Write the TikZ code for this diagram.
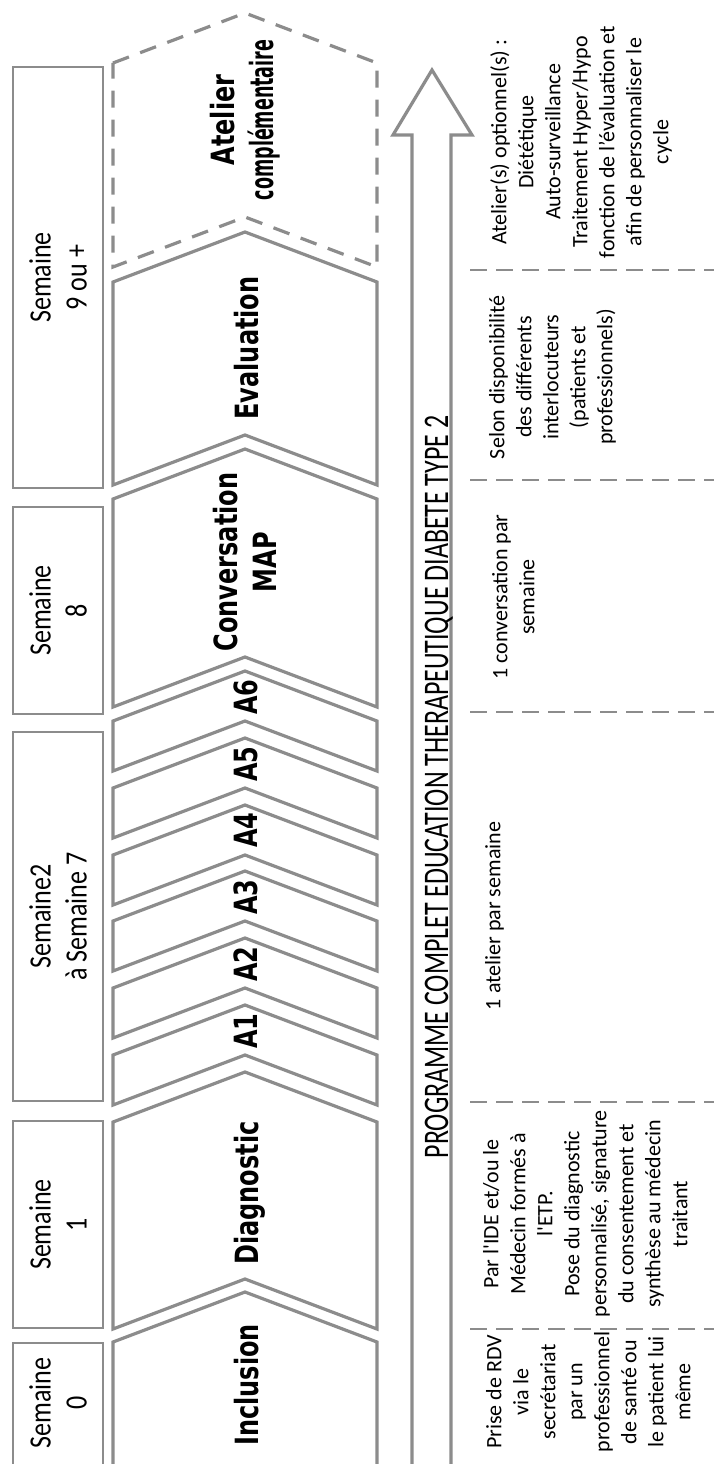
\documentclass[tikz,border=0pt]{standalone}
\usepackage{fontspec}
\usepackage{graphicx}
\setmainfont{Carlito}
\newfontfamily\wkfont[FakeStretch=0.84]{Carlito}
\newfontfamily\progfont[FakeStretch=0.72]{Carlito}
\newfontfamily\txtfont{Carlito}
\newfontfamily\labfont[FakeStretch=0.75]{DejaVu Sans}
\definecolor{lg}{RGB}{140,140,140}
\newcommand\drawchev[3][chev]{\draw[#1] (113,#2) -- (245,{#2-50}) -- (377,#2) -- (377,#3) -- (245,{#3-50}) -- (113,#3) -- cycle;}
\begin{document}
\begin{tikzpicture}[x=1pt,y=-1pt,
  chev/.style={draw=lg, line width=3.2pt, fill=white, line join=miter},
  chevd/.style={chev, dash pattern=on 17pt off 12pt},
  wkbox/.style={draw=lg, line width=1.8pt, fill=white, rotate=90, minimum height=90pt, inner sep=0pt, align=center, font=\wkfont\fontsize{31}{36}\selectfont},
  wktext/.style={rotate=90, inner sep=0pt, align=center, font=\wkfont\fontsize{31}{36}\selectfont},
  lab/.style={rotate=90, align=center, inner sep=0pt, font=\labfont\bfseries\fontsize{32}{39}\selectfont},
  rtxt/.style={rotate=90, align=center, anchor=north, inner sep=0pt, font=\txtfont\fontsize{22}{27}\selectfont},
  sep/.style={draw=lg, line width=2pt, dash pattern=on 17pt off 9pt},
  arr/.style={draw=lg, line width=3.2pt, line join=miter}]
\useasboundingbox (0,0) rectangle (714,1464);
\clip (0,0) rectangle (714,1464);
% week boxes
\draw[draw=lg, line width=1.8pt] (13,1343) rectangle (103,1490);
\node[wktext] (w0) at (58,1403) {Semaine\\0};
\node[wkbox, minimum width=207pt] (w1) at (58,1224.5) {Semaine\\1};
\node[wkbox, minimum width=369pt] (w2) at (58,916.5) {Semaine2\\à Semaine 7};
\node[wkbox, minimum width=207pt] (w8) at (58,610.5) {Semaine\\8};
\node[wkbox, minimum width=421pt] (w9) at (58,277.5) {Semaine\\9 ou +};
% chevrons
\drawchev[chevd]{63}{267}
\drawchev{282}{485}
\drawchev{499}{707}
\drawchev{721}{771}
\drawchev{788}{838}
\drawchev{855}{905}
\drawchev{921}{971}
\drawchev{988}{1038}
\drawchev{1055}{1105}
\drawchev{1122}{1329}
\drawchev{1342}{1530}
% chevron labels
\node[lab, anchor=base] (inc) at (258,1385) {Inclusion};
\node[lab, anchor=base] (dia) at (258,1193) {Diagnostic};
\node[lab, anchor=base] (a1) at (257,1031) {A1};
\node[lab, anchor=base] (a2) at (257,964) {A2};
\node[lab, anchor=base] (a3) at (257,897) {A3};
\node[lab, anchor=base] (a4) at (257,830) {A4};
\node[lab, anchor=base] (a5) at (257,764) {A5};
\node[lab, anchor=base] (a6) at (257,697) {A6};
\node[lab] (conv) at (245,562) {Conversation\\MAP};
\node[lab, anchor=base] (eval) at (258,348) {Evaluation};
\node[lab] (atc) at (245,120) {Atelier\\\scalebox{0.73}[1]{complémentaire}};
% arrow
\draw[arr] (412,1490) -- (412,135) -- (393,135) -- (432,70) -- (472,135) -- (451,135) -- (451,1490);
\node[rotate=90, anchor=base, inner sep=0pt, font=\progfont\fontsize{36}{40}\selectfont] (prog) at (448,787) {PROGRAMME COMPLET EDUCATION THERAPEUTIQUE DIABETE TYPE 2};
% separators
\coordinate (s1a) at (470,1329); \coordinate (s1b) at (714,1329);
\coordinate (s2a) at (470,1102); \coordinate (s2b) at (714,1102);
\coordinate (s3a) at (470,712);  \coordinate (s3b) at (714,712);
\coordinate (s4a) at (470,480);  \coordinate (s4b) at (714,480);
\coordinate (s5a) at (470,270);  \coordinate (s5b) at (714,270);
\draw[sep] (s1a) -- (s1b);
\draw[sep] (s2a) -- (s2b);
\draw[sep] (s3a) -- (s3b);
\draw[sep] (s4a) -- (s4b);
\draw[sep] (s5a) -- (s5b);
% right texts
\node[rtxt] (t0) at (486,1392) {Prise de RDV\\via le\\secrétariat\\par un\\professionnel\\de santé ou\\le patient lui\\même};
\node[rtxt] (t1) at (483,1214) {Par l'IDE et/ou le\\Médecin formés à\\l'ETP.\\Pose du diagnostic\\personnalisé, signature\\du consentement et\\synthèse au médecin\\traitant};
\node[rtxt] (t2) at (485,916) {1 atelier par semaine};
\node[rtxt] (t3) at (492,597) {1 conversation par\\semaine};
\node[rtxt] (t4) at (489,377) {Selon disponibilité\\des différents\\interlocuteurs\\(patients et\\professionnels)};
\node[rtxt] (t5) at (490,142) {Atelier(s) optionnel(s) :\\Diététique\\Auto-surveillance\\Traitement Hyper/Hypo\\fonction de l’évaluation et\\afin de personnaliser le\\cycle};
\end{tikzpicture}
\end{document}
